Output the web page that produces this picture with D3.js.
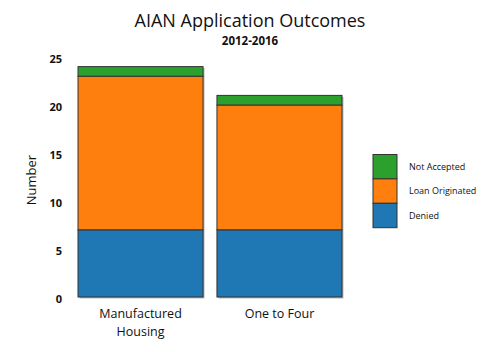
<!DOCTYPE html>
<html>
<head>
<meta charset="utf-8">
<script src="https://cdn.jsdelivr.net/npm/d3@7"></script>
<style>
  body { margin: 0; background: #fff; }
  text { font-family: "Open Sans", "Noto Sans", sans-serif; fill: #111; }
</style>
</head>
<body>
<div id="chart"></div>
<script>
// data
const categories = ["Manufactured Housing", "One to Four"];
const seriesNames = ["Denied", "Loan Originated", "Not Accepted"];
const denied = [7, 7];
const loanOriginated = [16, 13];
const notAccepted = [1, 1];
const yTicks = [0, 5, 10, 15, 20, 25];
const colors = ["#1f77b4", "#ff7f0e", "#2ca02c"];

const width = 500, height = 352;

const svg = d3.select("#chart").append("svg")
  .attr("width", width)
  .attr("height", height);

// build rows for the stack
const rows = categories.map((c, i) => ({
  cat: c,
  "Denied": denied[i],
  "Loan Originated": loanOriginated[i],
  "Not Accepted": notAccepted[i]
}));
const stacked = d3.stack().keys(seriesNames)(rows);

const x = d3.scaleBand()
  .domain(categories)
  .range([78, 342])
  .paddingInner(0.1);

const y = d3.scaleLinear()
  .domain([0, 25])
  .range([297, 57]);

const color = d3.scaleOrdinal().domain(seriesNames).range(colors);

// title
svg.append("text")
  .attr("x", 250).attr("y", 27)
  .attr("text-anchor", "middle")
  .style("font-size", "18px")
  .text("AIAN Application Outcomes");
svg.append("text")
  .attr("x", 250).attr("y", 45)
  .attr("text-anchor", "middle")
  .style("font-size", "11.5px")
  .style("font-weight", "bold")
  .text("2012-2016");

// y axis (labels only)
const yAxis = svg.append("g")
  .attr("transform", "translate(62,2)")
  .call(d3.axisLeft(y).tickValues(yTicks).tickSize(0).tickPadding(0));
yAxis.select(".domain").remove();
yAxis.selectAll("text")
  .style("font-size", "11px")
  .style("font-weight", "bold")
  .style("font-family", "'Open Sans', sans-serif")
  .attr("fill", "#111");

svg.append("text")
  .attr("transform", "translate(36,180) rotate(-90)")
  .attr("text-anchor", "middle")
  .style("font-size", "13px")
  .text("Number");

// shadows
svg.append("g").selectAll("rect")
  .data(rows)
  .join("rect")
  .attr("x", d => x(d.cat) + 1.5)
  .attr("y", d => y(d["Denied"] + d["Loan Originated"] + d["Not Accepted"]) + 1.5)
  .attr("width", x.bandwidth())
  .attr("height", d => y(0) - y(d["Denied"] + d["Loan Originated"] + d["Not Accepted"]))
  .attr("fill", "#bbb");

// bars
svg.append("g").selectAll("g")
  .data(stacked)
  .join("g")
  .attr("fill", d => color(d.key))
  .selectAll("rect")
  .data(d => d)
  .join("rect")
  .attr("x", d => x(d.data.cat))
  .attr("y", d => y(d[1]))
  .attr("width", x.bandwidth())
  .attr("height", d => y(d[0]) - y(d[1]))
  .attr("stroke", "#333")
  .attr("stroke-width", 1);

// x labels
const xl = svg.append("g").selectAll("text")
  .data(categories)
  .join("text")
  .attr("x", d => x(d) + x.bandwidth() / 2)
  .attr("y", 318)
  .attr("text-anchor", "middle")
  .style("font-size", "12.5px");
xl.each(function(d) {
  const words = d === "Manufactured Housing" ? ["Manufactured", "Housing"] : [d];
  d3.select(this).selectAll("tspan")
    .data(words)
    .join("tspan")
    .attr("x", x(d) + x.bandwidth() / 2)
    .attr("dy", (w, i) => i === 0 ? 0 : 18)
    .text(w => w);
});

// legend
const legendOrder = seriesNames.slice().reverse();
const legend = svg.append("g").attr("transform", "translate(373,154.5)");
legend.selectAll("rect")
  .data(legendOrder)
  .join("rect")
  .attr("x", 0)
  .attr("y", (d, i) => i * 24.4)
  .attr("width", 24)
  .attr("height", 24.4)
  .attr("fill", d => color(d))
  .attr("stroke", "#333");
legend.selectAll("text")
  .data(legendOrder)
  .join("text")
  .attr("x", 36)
  .attr("y", (d, i) => i * 24.4 + 15.5)
  .style("font-size", "9px")
  .text(d => d);
</script>
</body>
</html>
